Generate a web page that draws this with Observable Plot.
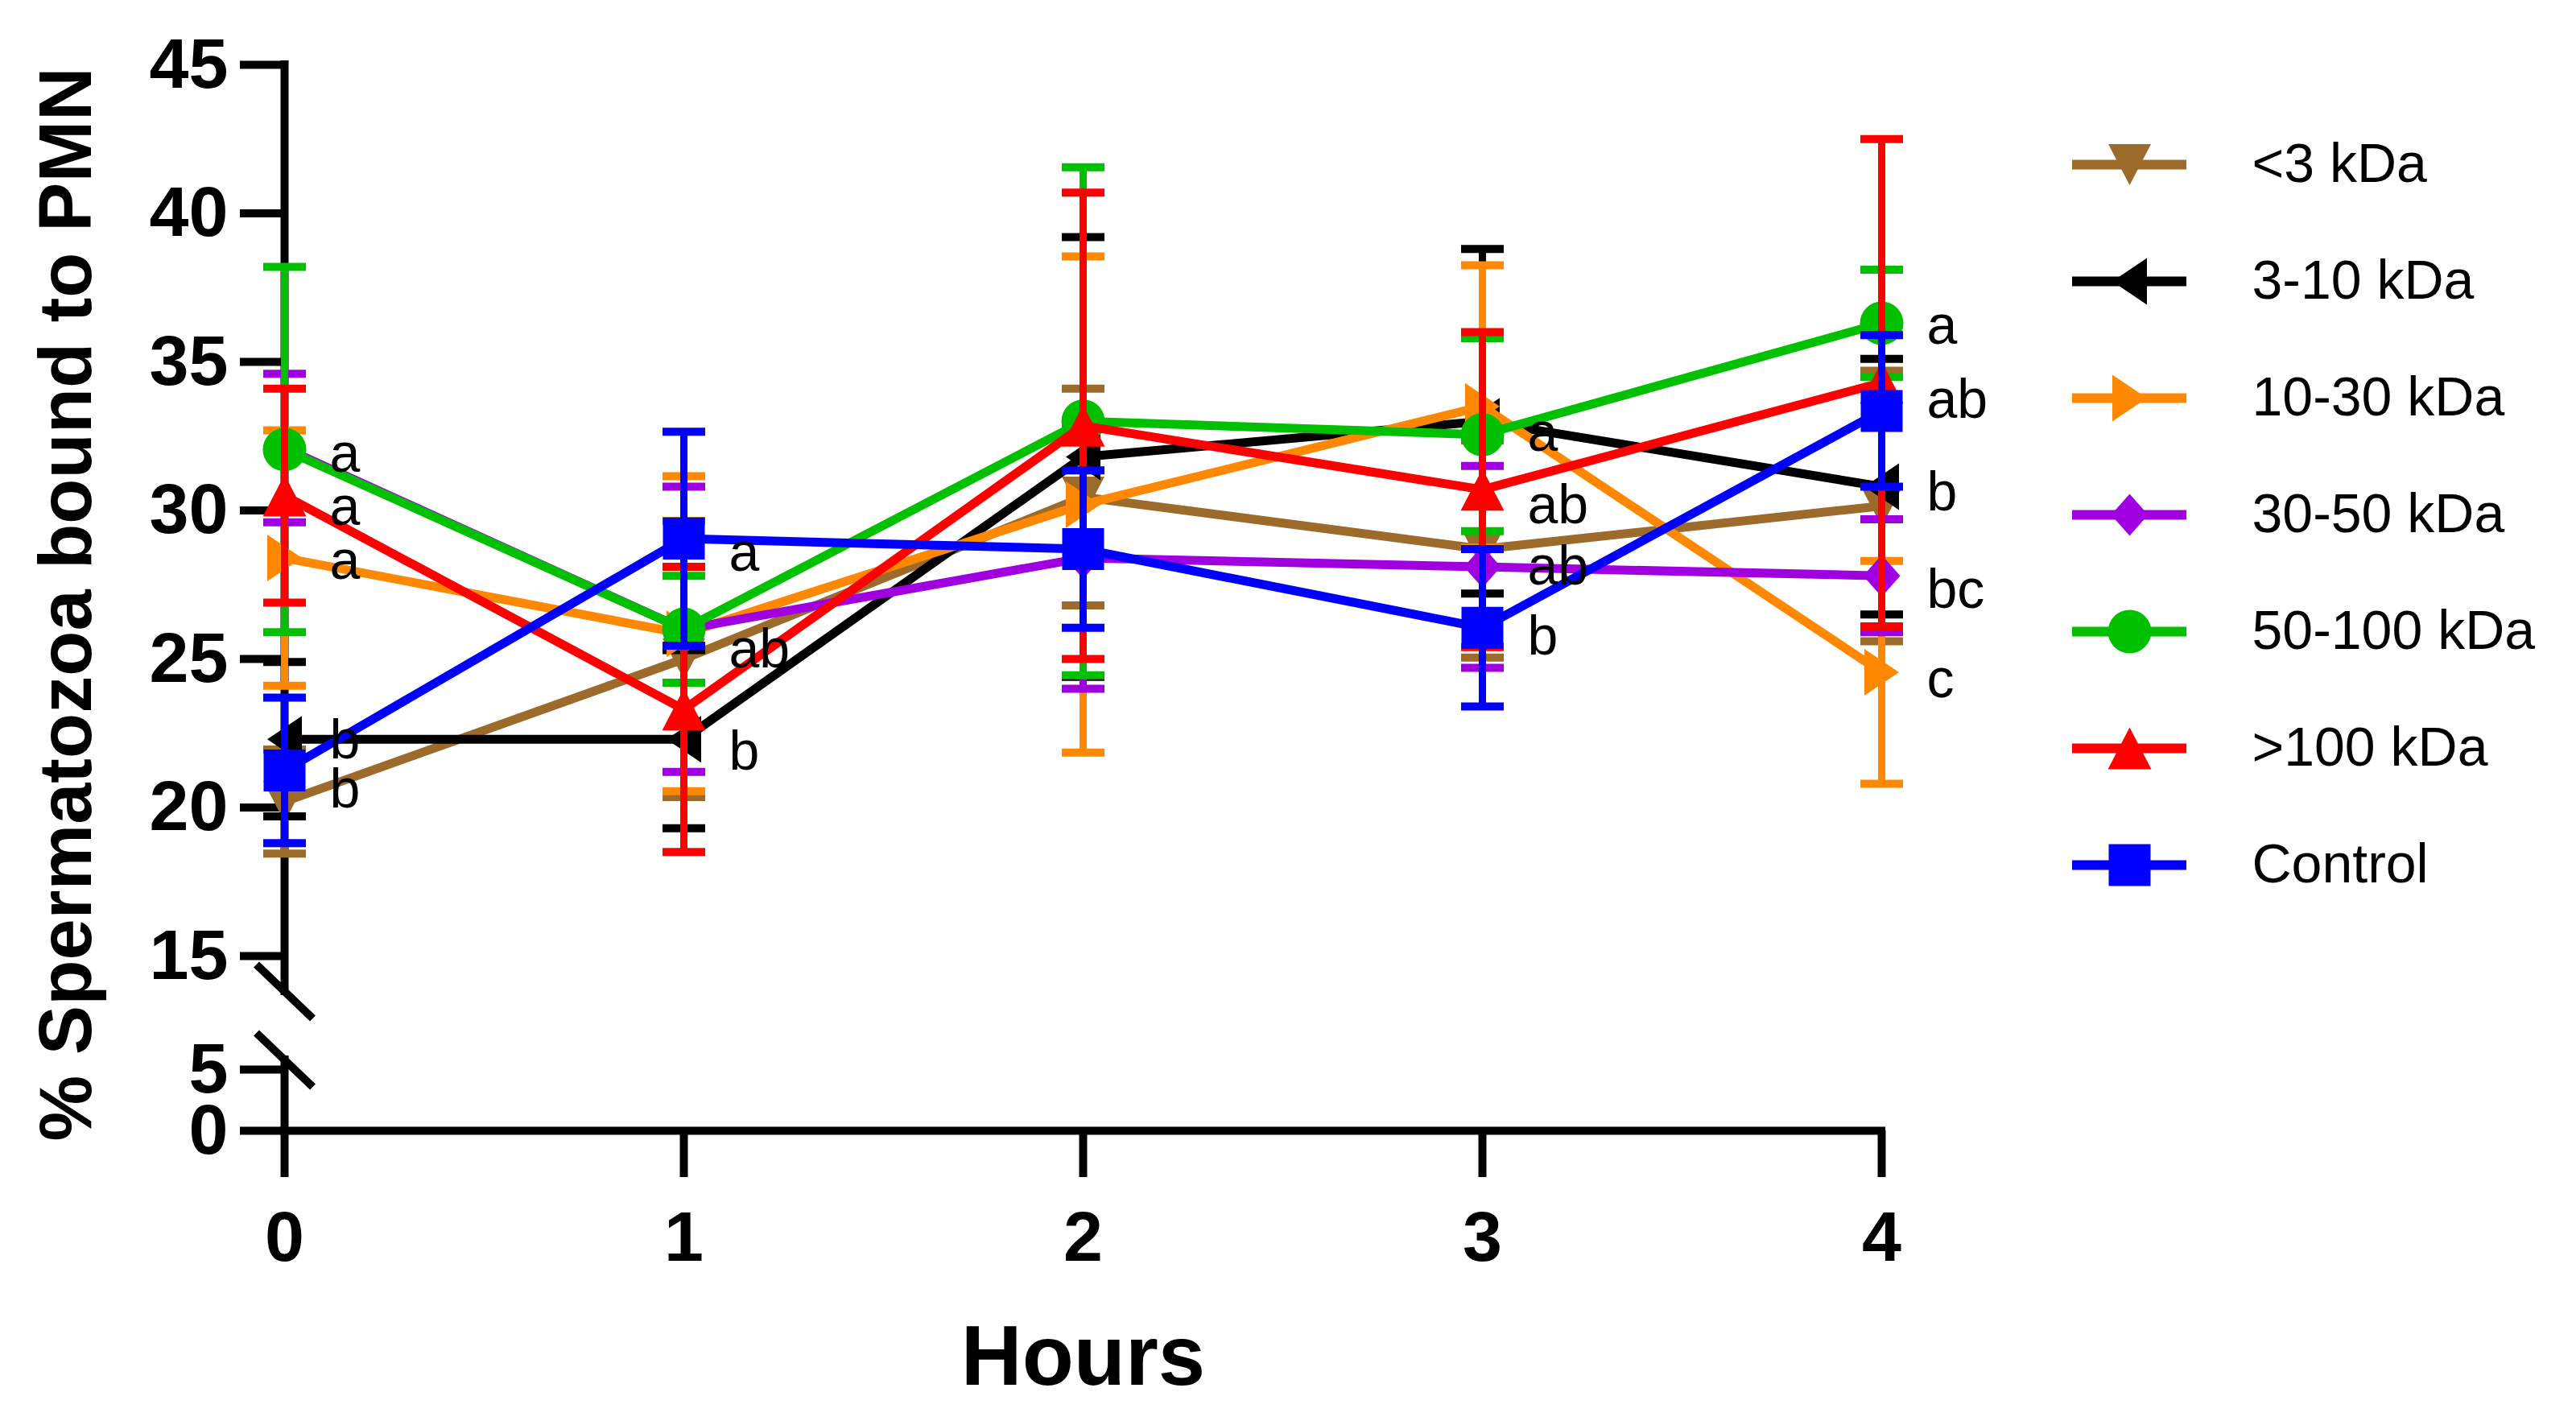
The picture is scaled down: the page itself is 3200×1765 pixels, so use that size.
<!DOCTYPE html>
<html>
<head>
<meta charset="utf-8">
<script src="https://cdn.jsdelivr.net/npm/d3@7"></script>
<script src="https://cdn.jsdelivr.net/npm/@observablehq/plot@0.6"></script>
<style>
  body { margin: 0; background: #fff; }
  #wrap { position: relative; width: 3200px; height: 1765px; background: #fff; }
  #legend { position: absolute; left: 2500px; top: 0; }
  svg { font-family: "Liberation Sans", Arial, sans-serif; }
</style>
</head>
<body>
<div id="wrap"><div id="chart"></div><div id="legend"></div></div>
<script>
// ---------- data ----------
const hours = [0, 1, 2, 3, 4];
const seriesNames = ["<3 kDa", "3-10 kDa", "10-30 kDa", "30-50 kDa", "50-100 kDa", ">100 kDa", "Control"];
const seriesColors = ["#9c6a2a", "#000000", "#ff8800", "#a000e0", "#00c000", "#ff0000", "#0000ff"];

const lt3Mean      = [20.2, 25.0, 30.45, 28.7, 30.15];
const lt3Err       = [1.75, 4.65, 3.65, 3.65, 4.55];
const k3to10Mean   = [22.3, 22.3, 31.8, 33.0, 30.8];
const k3to10Err    = [2.6, 3.0, 7.4, 5.8, 4.3];
const k10to30Mean  = [28.4, 25.85, 30.2, 33.5, 24.55];
const k10to30Err   = [4.3, 5.3, 8.35, 4.75, 3.75];
const k30to50Mean  = [32.1, 26.0, 28.4, 28.1, 27.8];
const k30to50Err   = [2.5, 4.8, 4.4, 3.4, 1.9];
const k50to100Mean = [32.05, 26.0, 33.0, 32.55, 36.3];
const k50to100Err  = [6.15, 1.8, 8.55, 3.25, 1.8];
const gt100Mean    = [30.5, 23.3, 32.85, 30.7, 34.3];
const gt100Err     = [3.6, 4.8, 7.85, 5.3, 8.2];
const controlMean  = [21.25, 29.05, 28.7, 26.05, 33.35];
const controlErr   = [2.45, 3.6, 2.65, 2.65, 2.55];

const letterHours  = [0, 0, 0, 0, 0, 1, 1, 1, 3, 3, 3, 3, 4, 4, 4, 4, 4];
const letterValues = [31.9, 30.1, 28.3, 22.25, 20.6, 28.57, 25.3, 21.87, 32.6, 30.15, 28.1, 25.75, 36.2, 33.7, 30.6, 27.3, 24.3];
const letterTexts  = ["a", "a", "a", "b", "b", "a", "ab", "b", "a", "ab", "ab", "b", "a", "ab", "b", "bc", "c"];

const xTicks = [0, 1, 2, 3, 4];
const yTicks = [0, 5, 15, 20, 25, 30, 35, 40, 45];
// broken y axis: the 0–5 segment is compressed, 5–15 is the gap
const yBreakIn  = [0, 5, 15, 45];
const yBreakOut = [9.12, 11.18, 15, 45];
const axisUpperEnd = 11.88;   // upper axis segment ends inside the gap
const axisLowerEnd = 5.85;    // lower axis segment ends inside the gap
const breakMarks = [axisUpperEnd, axisLowerEnd];
const axisSegments = [{lo: axisUpperEnd, hi: 45}, {lo: 0, hi: axisLowerEnd}];

const yBreak = d3.scaleLinear().domain(yBreakIn).range(yBreakOut);

// ---------- symbols (sized in px at r = 20) ----------
function poly(pts) {
  return {
    draw(ctx, size) {
      const k = Math.sqrt(size / Math.PI) / 20;
      ctx.moveTo(pts[0][0] * k, pts[0][1] * k);
      for (let i = 1; i < pts.length; i++) ctx.lineTo(pts[i][0] * k, pts[i][1] * k);
      ctx.closePath();
    }
  };
}
const triDown  = poly([[-26.5, -25.5], [26.5, -25.5], [0, 25.5]]);
const triLeft  = poly([[-21.5, 0], [21.5, -29], [21.5, 29]]);
const triRight = poly([[21.5, 0], [-21.5, -29], [-21.5, 29]]);
const triUp    = poly([[0, -26], [27, 26], [-27, 26]]);
const diamond  = poly([[0, -26], [23, 0], [0, 26], [-23, 0]]);
const square   = poly([[-26, -26], [26, -26], [26, 26], [-26, 26]]);
const circle = {
  draw(ctx, size) {
    const r = 27 * Math.sqrt(size / Math.PI) / 20;
    ctx.moveTo(r, 0);
    ctx.arc(0, 0, r, 0, 2 * Math.PI);
  }
};
const capSym = {
  draw(ctx, size) {
    const w = 26.5 * Math.sqrt(size / Math.PI) / 20;
    ctx.moveTo(-w, 0);
    ctx.lineTo(w, 0);
  }
};
const slashSym = {
  draw(ctx, size) {
    const k = Math.sqrt(size / Math.PI) / 20;
    ctx.moveTo(-35 * k, -33.5 * k);
    ctx.lineTo(35 * k, 33.5 * k);
  }
};
const seriesSymbols = [triDown, triLeft, triRight, diamond, circle, triUp, square];

const meansList = [lt3Mean, k3to10Mean, k10to30Mean, k30to50Mean, k50to100Mean, gt100Mean, controlMean];
const errsList  = [lt3Err, k3to10Err, k10to30Err, k30to50Err, k50to100Err, gt100Err, controlErr];

const seriesRows = seriesNames.map((name, i) =>
  hours.map((h, j) => ({
    series: name, hour: h, mean: meansList[i][j],
    lo: meansList[i][j] - errsList[i][j], hi: meansList[i][j] + errsList[i][j]
  }))
);
const letters = letterTexts.map((t, i) => ({hour: letterHours[i], value: letterValues[i], label: t}));

// ---------- main chart ----------
const seriesMarks = [];
seriesRows.forEach((rows, i) => {
  const c = seriesColors[i];
  seriesMarks.push(
    Plot.ruleX(rows, {x: "hour", y1: d => yBreak(d.lo), y2: d => yBreak(d.hi), stroke: c, strokeWidth: 9}),
    Plot.dot(rows, {x: "hour", y: d => yBreak(d.hi), symbol: capSym, r: 20, stroke: c, strokeWidth: 10, fill: "none"}),
    Plot.dot(rows, {x: "hour", y: d => yBreak(d.lo), symbol: capSym, r: 20, stroke: c, strokeWidth: 10, fill: "none"}),
    Plot.line(rows, {x: "hour", y: d => yBreak(d.mean), stroke: c, strokeWidth: 11}),
    Plot.dot(rows, {x: "hour", y: d => yBreak(d.mean), symbol: seriesSymbols[i], r: 20, fill: c, stroke: "none"})
  );
});

const chart = Plot.plot({
  width: 3200,
  height: 1765,
  marginLeft: 353,
  marginRight: 863,
  marginTop: 80,
  marginBottom: 361,
  style: {fontFamily: "Liberation Sans, Arial, sans-serif", background: "white", color: "black", overflow: "visible"},
  x: {domain: [0, 4]},
  y: {domain: [yBreak(0), yBreak(45)]},
  marks: [
    Plot.axisX({ticks: xTicks, tickSize: 58, tickPadding: 41, fontSize: 88, fontWeight: "bold", strokeWidth: 10, label: null, tickFormat: d => String(d)}),
    Plot.axisY({ticks: yTicks.map(v => yBreak(v)), tickSize: 55, tickPadding: 15, fontSize: 88, fontWeight: "bold", strokeWidth: 10, label: null,
      tickFormat: u => String(Math.round(yBreak.invert(u)))}),
    Plot.ruleX(axisSegments, {x: () => 0, y1: d => yBreak(d.lo), y2: d => yBreak(d.hi), stroke: "black", strokeWidth: 10, strokeLinecap: "square"}),
    Plot.ruleY([0], {y: d => yBreak(d), x1: () => 0, x2: () => 4, stroke: "black", strokeWidth: 10, strokeLinecap: "square"}),
    Plot.dot(breakMarks, {x: () => 0, y: d => yBreak(d), symbol: slashSym, r: 20, stroke: "black", strokeWidth: 10, fill: "none"}),
    ...seriesMarks,
    Plot.text(letters, {x: "hour", y: d => yBreak(d.value), text: "label", dx: 56, textAnchor: "start", fontSize: 68, fontWeight: "normal", fill: "black"}),
    Plot.text(["Hours"], {text: d => d, frameAnchor: "bottom", dy: 282, fontSize: 105, fontWeight: "bold", textAnchor: "middle", lineAnchor: "middle", fill: "black"}),
    Plot.text(["% Spermatozoa bound to PMN"], {text: d => d, frameAnchor: "left", rotate: -90, dx: -270, dy: 8, fontSize: 92, fontWeight: "bold", textAnchor: "middle", lineAnchor: "middle", fill: "black"})
  ]
});
document.getElementById("chart").appendChild(chart);

// ---------- legend ----------
const legendMarks = [];
seriesNames.forEach((name, i) => {
  legendMarks.push(
    Plot.ruleY([name], {y: d => d, x1: 0, x2: 1, stroke: seriesColors[i], strokeWidth: 12}),
    Plot.dot([name], {x: 0.5, y: d => d, symbol: seriesSymbols[i], r: 20, fill: seriesColors[i], stroke: "none"})
  );
});
const legend = Plot.plot({
  width: 700,
  height: 1200,
  margin: 0,
  style: {fontFamily: "Liberation Sans, Arial, sans-serif", background: "transparent", color: "black", overflow: "visible"},
  x: {domain: [0, 1], range: [74, 216], axis: null},
  y: {type: "point", domain: seriesNames, range: [202, 1075], padding: 0, axis: null},
  marks: [
    ...legendMarks,
    Plot.text(seriesNames, {x: 1, y: d => d, text: d => d, dx: 81, textAnchor: "start", fontSize: 68, fill: "black"})
  ]
});
document.getElementById("legend").appendChild(legend);
</script>
</body>
</html>
